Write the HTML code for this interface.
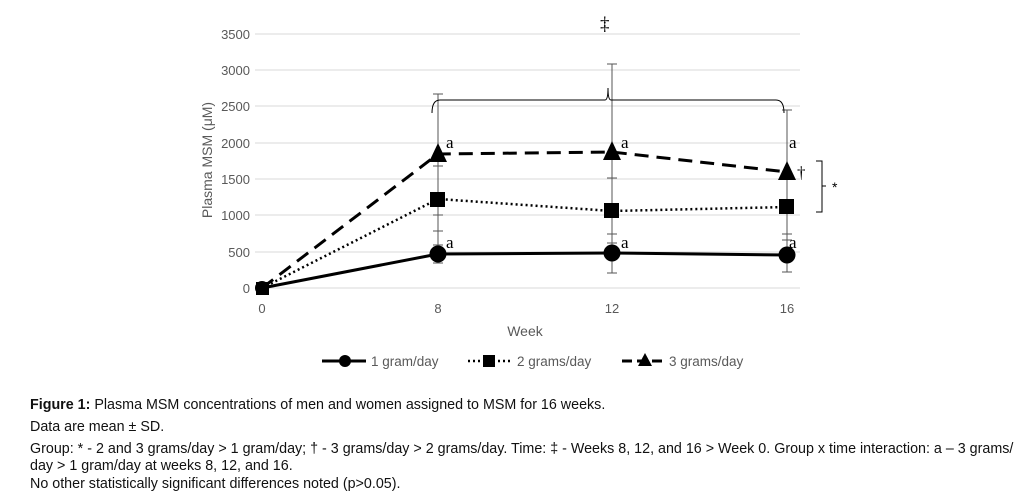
<!DOCTYPE html>
<html><head><meta charset="utf-8"><style>
body{margin:0;background:#fff;width:1034px;height:491px;overflow:hidden;font-family:"Liberation Sans",Arial,sans-serif}
.cap{position:absolute;left:30px;font-size:14.3px;color:#111;white-space:nowrap}
</style></head><body>
<svg width="1034" height="380" style="position:absolute;left:0;top:0" font-family="Liberation Sans, Arial, sans-serif">
<g stroke="#d9d9d9" stroke-width="1">
<line x1="255" x2="800" y1="34" y2="34"/><line x1="255" x2="800" y1="70" y2="70"/>
<line x1="255" x2="800" y1="106" y2="106"/><line x1="255" x2="800" y1="143" y2="143"/>
<line x1="255" x2="800" y1="179" y2="179"/><line x1="255" x2="800" y1="215" y2="215"/>
<line x1="255" x2="800" y1="252" y2="252"/><line x1="255" x2="800" y1="288" y2="288"/>
</g>
<g fill="#595959" font-size="13" text-anchor="end">
<text x="250" y="39">3500</text><text x="250" y="75">3000</text><text x="250" y="111">2500</text>
<text x="250" y="148">2000</text><text x="250" y="184">1500</text><text x="250" y="220">1000</text>
<text x="250" y="257">500</text><text x="250" y="293">0</text>
</g>
<g fill="#595959" font-size="13" text-anchor="middle">
<text x="262" y="313">0</text><text x="438" y="313">8</text><text x="612" y="313">12</text><text x="787" y="313">16</text>
<text x="525" y="336" font-size="14">Week</text>
</g>
<text transform="translate(212,160) rotate(-90)" fill="#595959" font-size="14" text-anchor="middle">Plasma MSM (μM)</text>
<g stroke="#555" stroke-width="1">
<line x1="438" y1="94" x2="438" y2="263"/><line x1="433" y1="94" x2="443" y2="94"/>
<line x1="433" y1="166" x2="443" y2="166"/><line x1="433" y1="215" x2="443" y2="215"/>
<line x1="433" y1="231" x2="443" y2="231"/><line x1="433" y1="245" x2="443" y2="245"/><line x1="433" y1="263" x2="443" y2="263"/>
<line x1="612" y1="64" x2="612" y2="273"/><line x1="607" y1="64" x2="617" y2="64"/>
<line x1="607" y1="178" x2="617" y2="178"/><line x1="607" y1="234" x2="617" y2="234"/>
<line x1="607" y1="243" x2="617" y2="243"/><line x1="607" y1="273" x2="617" y2="273"/>
<line x1="787" y1="110" x2="787" y2="272"/><line x1="782" y1="110" x2="792" y2="110"/>
<line x1="782" y1="234" x2="792" y2="234"/><line x1="782" y1="240" x2="792" y2="240"/><line x1="782" y1="272" x2="792" y2="272"/>
</g>
<polyline points="262,288 438,154 612,152 787,172" fill="none" stroke="#000" stroke-width="3" stroke-dasharray="14,8"/>
<polyline points="262,288 438,199 612,211 787,207" fill="none" stroke="#000" stroke-width="2.5" stroke-dasharray="2,3"/>
<polyline points="262,288 438,254 612,253 787,255" fill="none" stroke="#000" stroke-width="3"/>
<g fill="#000">
<circle cx="262" cy="288" r="7"/><circle cx="438" cy="254" r="8.5"/><circle cx="612" cy="253" r="8.5"/><circle cx="787" cy="255" r="8.5"/>
<rect x="256" y="282" width="13" height="13"/><rect x="430" y="192" width="15" height="15"/><rect x="604" y="203" width="15" height="15"/><rect x="779" y="199" width="15" height="15"/>
<polygon points="438,143 429,162 447,162"/><polygon points="612,141 603,160 621,160"/><polygon points="787,161 778,180 796,180"/>
</g>
<g font-family="Liberation Serif, serif" font-size="17" fill="#000">
<text x="446" y="148">a</text><text x="621" y="148">a</text><text x="789" y="148">a</text>
<text x="446" y="248">a</text><text x="621" y="248">a</text><text x="789" y="248">a</text>
<text x="797" y="178">†</text><text x="600" y="30" font-size="19">‡</text>
</g>
<path d="M432,113 Q432,100 440,100 L605,100 Q608,100 608,88 Q608,100 611,100 L776,100 Q784,100 784,113" fill="none" stroke="#000" stroke-width="1"/>
<path d="M816,161 L822,161 L822,212 L816,212 M822,186 L826,186" fill="none" stroke="#000" stroke-width="1"/>
<text x="832" y="192" font-size="14" fill="#000">*</text>
<line x1="322" y1="361" x2="366" y2="361" stroke="#000" stroke-width="3"/><circle cx="345" cy="361" r="6" fill="#000"/>
<text x="371" y="366" font-size="13.5" fill="#595959">1 gram/day</text>
<line x1="468" y1="361" x2="510" y2="361" stroke="#000" stroke-width="2.5" stroke-dasharray="2,3"/><rect x="483" y="355" width="12" height="12" fill="#000"/>
<text x="517" y="366" font-size="13.5" fill="#595959">2 grams/day</text>
<line x1="622" y1="361" x2="662" y2="361" stroke="#000" stroke-width="3" stroke-dasharray="10,5"/><polygon points="645,353 638,366 652,366" fill="#000"/>
<text x="669" y="366" font-size="13.5" fill="#595959">3 grams/day</text>
</svg>
<div class="cap" style="top:397px"><b>Figure 1:</b> Plasma MSM concentrations of men and women assigned to MSM for 16 weeks.</div>
<div class="cap" style="top:419px">Data are mean ± SD.</div>
<div class="cap" style="top:441px">Group: * - 2 and 3 grams/day &gt; 1 gram/day; † - 3 grams/day &gt; 2 grams/day. Time: ‡ - Weeks 8, 12, and 16 &gt; Week 0. Group x time interaction: a – 3 grams/</div>
<div class="cap" style="top:458px">day &gt; 1 gram/day at weeks 8, 12, and 16.</div>
<div class="cap" style="top:476px">No other statistically significant differences noted (p&gt;0.05).</div>
</body></html>
